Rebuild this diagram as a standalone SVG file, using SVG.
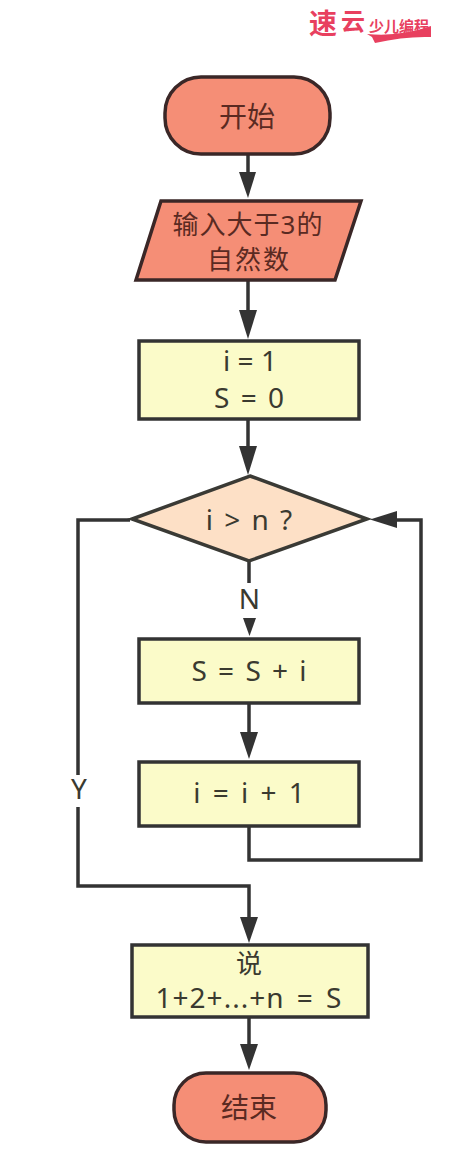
<svg xmlns="http://www.w3.org/2000/svg" width="463" height="1150" viewBox="0 0 463 1150">
<style>
.r{fill:#f58e76;stroke:#3a2727;stroke-width:3.500}
.y{fill:#fbfbc9;stroke:#333;stroke-width:3.500}
.d{fill:#fde0c6;stroke:#3a3a35;stroke-width:3.500}
text{font-family:"Noto Sans","Noto Sans CJK SC",sans-serif;font-size:28px;text-anchor:middle;fill:#3a3a30;word-spacing:4px}
.t{fill:#5a2a22}
.c{fill:none;stroke:#333;stroke-width:3.500}
.h{fill:#333;stroke:none}
.w{font-family:"Noto Sans CJK SC",sans-serif;fill:#e8405f;font-weight:700}
</style>
<rect width="463" height="1150" fill="#fff"/>
<g id="logo">
<text class="w" x="323" y="34" style="font-size:28px">速</text>
<text class="w" x="353" y="30" style="font-size:24px">云</text>
<text class="w" x="399" y="32" style="font-size:15px">少儿编程</text>
<path d="M367 34Q400 37 431 26L431 37Q405 36 375 43L372 37Z" fill="#e8405f"/>
</g>
<g id="connectors">
<path class="c" d="M248 155V176"/><path class="h" d="M239 172H256L248 198Z"/>
<path class="c" d="M248 280V314"/><path class="h" d="M239 310H257L248 339Z"/>
<path class="c" d="M248 420V450"/><path class="h" d="M239 446H257L248 475Z"/>
<path class="c" d="M249 561V583"/>
<path class="h" d="M243 618H256L249.500 636Z"/>
<path class="c" d="M249 704V736"/><path class="h" d="M240 732H258L249 759Z"/>
<path class="c" d="M249 827V860H421V520H395"/><path class="h" d="M397 511V528L370 519.500Z"/>
<path class="c" d="M130 520H78V886H249V918"/><path class="h" d="M240 917H258L249 943Z"/>
<path class="c" d="M249 1018V1048"/><path class="h" d="M240 1044H258L249 1070Z"/>
<rect x="66" y="775" width="26" height="32" fill="#fff"/>
<text x="79" y="799">Y</text>
<text x="249.500" y="609">N</text>
</g>
<g id="start"><rect class="r" x="165" y="77" width="165" height="77" rx="36"/><text class="t" x="247" y="127">开始</text></g>
<g id="input"><path class="r" d="M161 201H361L335 280H136Z"/><text class="t" x="248" y="234" style="font-size:26px;letter-spacing:1px">输入大于3的</text><text class="t" x="249" y="269" style="font-size:26px;letter-spacing:2px">自然数</text></g>
<g id="init"><rect class="y" x="139" y="341" width="220" height="78"/><text x="250" y="371" style="word-spacing:0">i = 1</text><text x="249" y="408">S = 0</text></g>
<g id="cond"><path class="d" d="M250 476L367 519L249 561L132 519Z"/><text x="249" y="530" style="word-spacing:4px">i &gt; n ?</text></g>
<g id="sum"><rect class="y" x="139" y="639" width="220" height="64"/><text x="249" y="681" style="word-spacing:4px">S = S + i</text></g>
<g id="inc"><rect class="y" x="139" y="762" width="220" height="64"/><text x="249" y="803" style="word-spacing:5px">i = i + 1</text></g>
<g id="say"><rect class="y" x="132" y="945" width="236" height="72"/><text x="249" y="973" style="font-size:26px">说</text><text x="249" y="1008" style="letter-spacing:1px;word-spacing:4px">1+2+...+n = S</text></g>
<g id="end"><rect class="r" x="174" y="1073" width="152" height="69" rx="32"/><text class="t" x="249" y="1118">结束</text></g>
</svg>
